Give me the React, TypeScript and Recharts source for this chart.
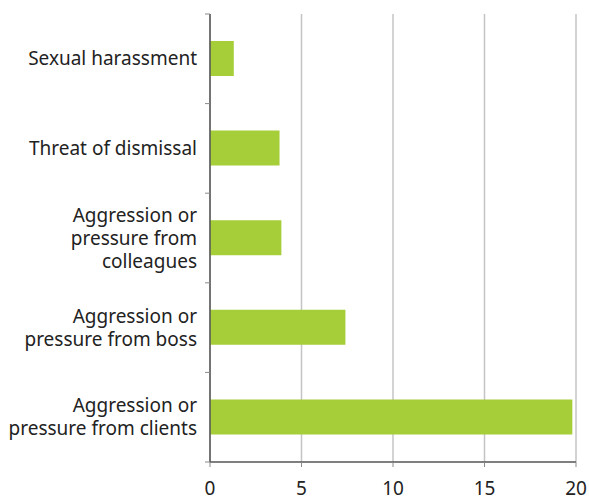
import React from 'react';
import { BarChart, Bar, XAxis, YAxis, CartesianGrid } from 'recharts';

const categories = [
  'Sexual harassment',
  'Threat of dismissal',
  'Aggression or\npressure from\ncolleagues',
  'Aggression or\npressure from boss',
  'Aggression or\npressure from clients',
];
const values = [1.3, 3.8, 3.9, 7.4, 19.8];
const xTicks = [0, 5, 10, 15, 20];

const data = categories.map((c, i) => ({ category: c, value: values[i] }));

const FONT = "'Noto Sans', sans-serif";
const TEXT = '#222222';
const LABEL_GAP = 13;

const CategoryTick = (props: any) => {
  const { x, y, payload, index, visibleTicksCount } = props;
  const lines = String(payload.value).split('\n');
  const lh = 23;
  const start = y - ((lines.length - 1) * lh) / 2;
  const axisX = x + LABEL_GAP;
  const off = payload.offset || 0;
  const isLast = index === (visibleTicksCount ?? categories.length) - 1;
  return (
    <g>
      {off > 0 && (
        <line x1={axisX - 5} x2={axisX} y1={y - off} y2={y - off} stroke="#8a8a8a" strokeWidth={1} />
      )}
      {off > 0 && isLast && (
        <line x1={axisX - 5} x2={axisX} y1={y + off} y2={y + off} stroke="#8a8a8a" strokeWidth={1} />
      )}
      {lines.map((l, i) => (
        <text
          key={i}
          x={x}
          y={start + i * lh}
          dy="0.35em"
          textAnchor="end"
          fontFamily={FONT}
          fontSize={19}
          fill={TEXT}
        >
          {l}
        </text>
      ))}
    </g>
  );
};

export default function App() {
  return (
    <div style={{ position: 'absolute', left: 0, top: 0, background: '#fff' }}>
      <BarChart
        width={589}
        height={499}
        data={data}
        layout="vertical"
        margin={{ top: 14, right: 13, bottom: 0, left: 0 }}
      >
        <CartesianGrid horizontal={false} vertical={true} stroke="#c4c4c4" strokeWidth={1.5} />
        <XAxis
          type="number"
          domain={[0, 20]}
          ticks={xTicks}
          interval={0}
          height={37}
          axisLine={{ stroke: '#555555', strokeWidth: 1.5 }}
          tickLine={{ stroke: '#8a8a8a' }}
          tickSize={5}
          tickMargin={15}
          tick={{ fill: TEXT, fontSize: 19, fontFamily: FONT }}
        />
        <YAxis
          type="category"
          dataKey="category"
          width={210}
          interval={0}
          axisLine={{ stroke: '#555555', strokeWidth: 1.5 }}
          tickLine={false}
          tickSize={0}
          tickMargin={LABEL_GAP}
          tick={<CategoryTick />}
        />
        <Bar dataKey="value" fill="#a6ce39" barSize={35} isAnimationActive={false} />
      </BarChart>
    </div>
  );
}
